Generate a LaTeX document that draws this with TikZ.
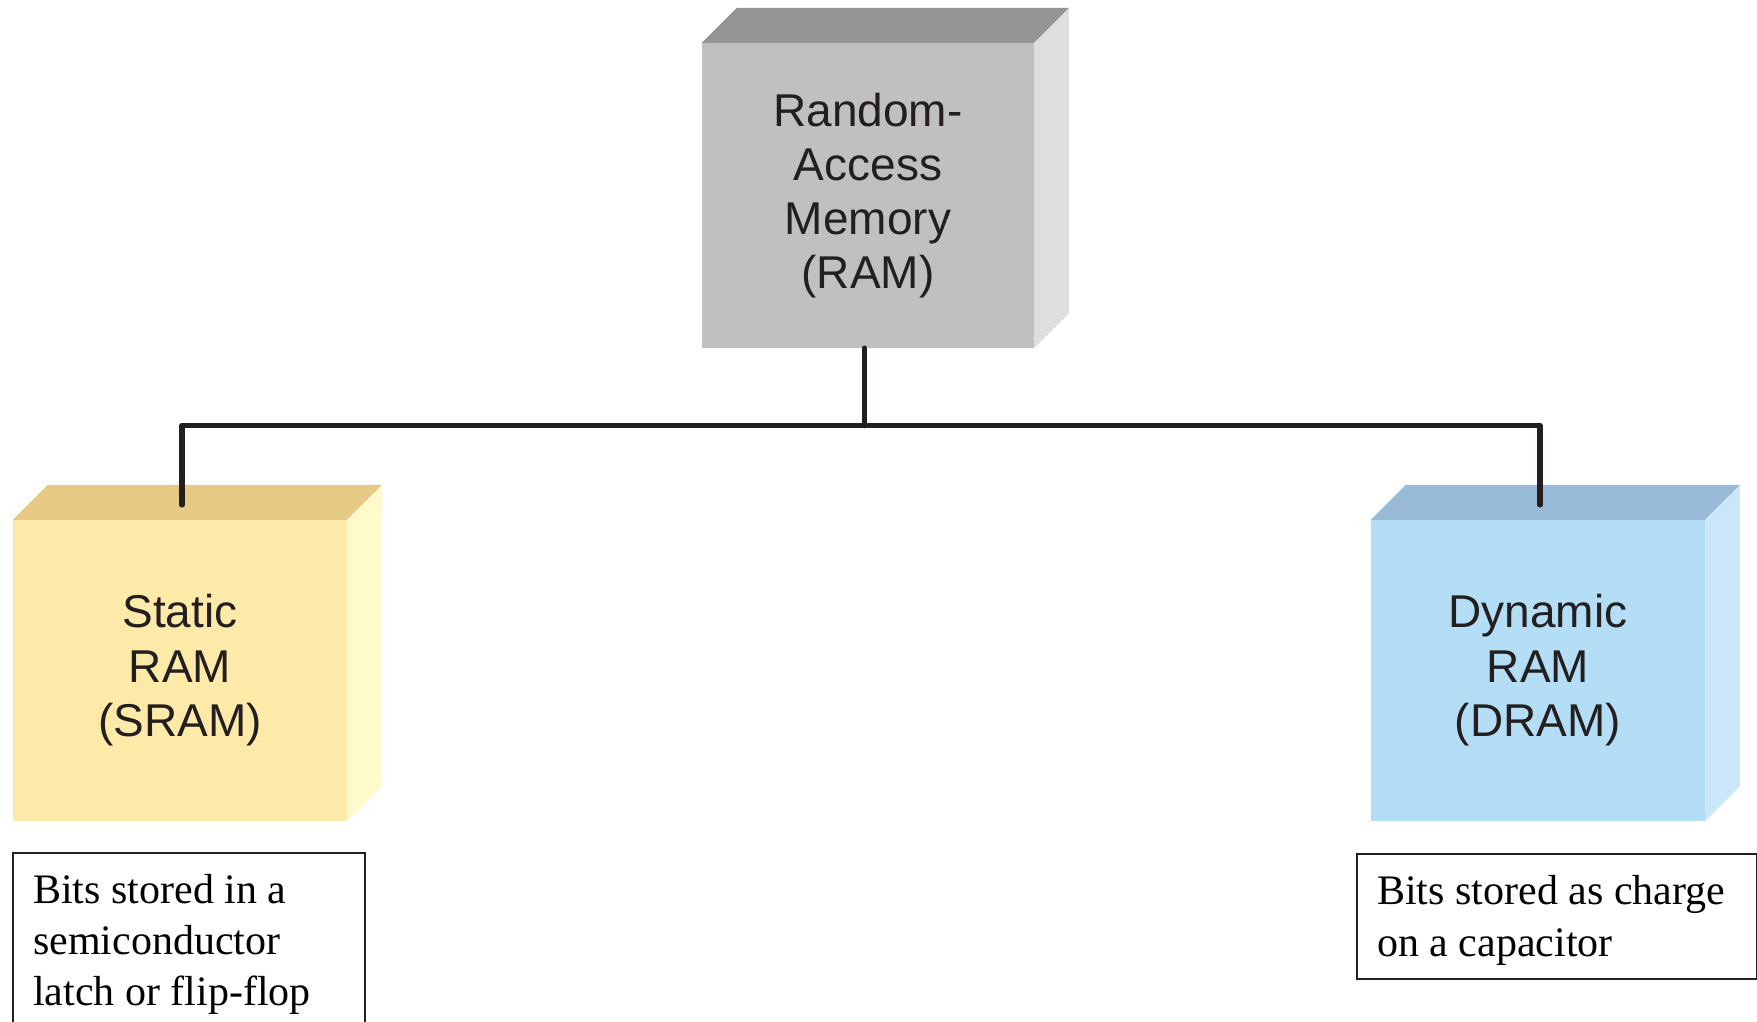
\documentclass[tikz,border=0pt]{standalone}
\usepackage{fontspec}
\setmainfont{Liberation Serif}
\newfontfamily\blockfont{Liberation Sans}
\usetikzlibrary{calc}

\definecolor{ink}{HTML}{231F20}
\definecolor{ramfront}{HTML}{C0C0C0}
\definecolor{ramtop}{HTML}{959595}
\definecolor{ramside}{HTML}{DEDEDE}
\definecolor{sramfront}{HTML}{FDEAA8}
\definecolor{sramtop}{HTML}{E6CA84}
\definecolor{sramside}{HTML}{FFFAC9}
\definecolor{dramfront}{HTML}{B3DEF5}
\definecolor{dramtop}{HTML}{9ABBD7}
\definecolor{dramside}{HTML}{CAE7F9}

% top and right faces of a block, drawn next to its front face
\newcommand{\blockfaces}[3]{%
  \fill[#2] (#1.north west) -- ++(35,-35) -- ($(#1.north east)+(35,-35)$) -- (#1.north east) -- cycle;
  \fill[#3] (#1.north east) -- ++(35,-35) -- ($(#1.south east)+(35,-35)$) -- (#1.south east) -- cycle;
}

\tikzset{
  block/.style={rectangle, inner sep=0pt, minimum width=334pt, minimum height=301pt,
    align=center, text=ink, font=\blockfont\fontsize{46}{54.5}\selectfont},
  note/.style={draw=ink, line width=2.4pt, rectangle, inner xsep=20pt, inner ysep=17pt,
    align=flush left, text=black, text height=33pt},
  wire/.style={draw=ink, line width=5.5pt, line cap=round, line join=round}
}

\begin{document}
\begin{tikzpicture}[x=1pt,y=-1pt]
  \useasboundingbox (0,0) rectangle (1757,1022);
  \clip (0,0) rectangle (1757,1022);

  % blocks
  \node[block, fill=ramfront, minimum width=332pt, minimum height=305pt,
        font=\blockfont\fontsize{46}{54}\selectfont]
    (ram) at (868,195.5) {Random-\\Access\\Memory\\(RAM)};
  \blockfaces{ram}{ramtop}{ramside}

  \node[block, fill=sramfront] (sram) at (180,670.5) {Static\\RAM\\(SRAM)};
  \blockfaces{sram}{sramtop}{sramside}

  \node[block, fill=dramfront] (dram) at (1538,670.5) {Dynamic\\RAM\\(DRAM)};
  \blockfaces{dram}{dramtop}{dramside}

  % descriptions (the box depth counts from the first baseline)
  \node[note, anchor=north west, text width=312pt, text depth=160pt,
        font=\fontsize{42}{51}\selectfont] (sramnote) at (12,852)
    {Bits stored in a\\semiconductor\\latch or flip-flop};
  \node[note, anchor=north west, text width=360pt, text depth=58pt,
        font=\fontsize{42}{52}\selectfont] (dramnote) at (1356,853)
    {Bits stored as charge\\on a capacitor};

  % tree connectors
  \coordinate (ramfoot) at ($(ram.south)+(-3.5,0)$);
  \coordinate (busline) at (0,425.5);
  \coordinate (fork) at (ramfoot |- busline);
  \coordinate (sramtip) at ($(sram.north)+(2,-15)$);
  \coordinate (dramtip) at ($(dram.north)+(2,-15)$);
  \draw[wire] (ramfoot) -- (fork);
  \draw[wire] (sramtip) |- (fork) -| (dramtip);
\end{tikzpicture}
\end{document}
